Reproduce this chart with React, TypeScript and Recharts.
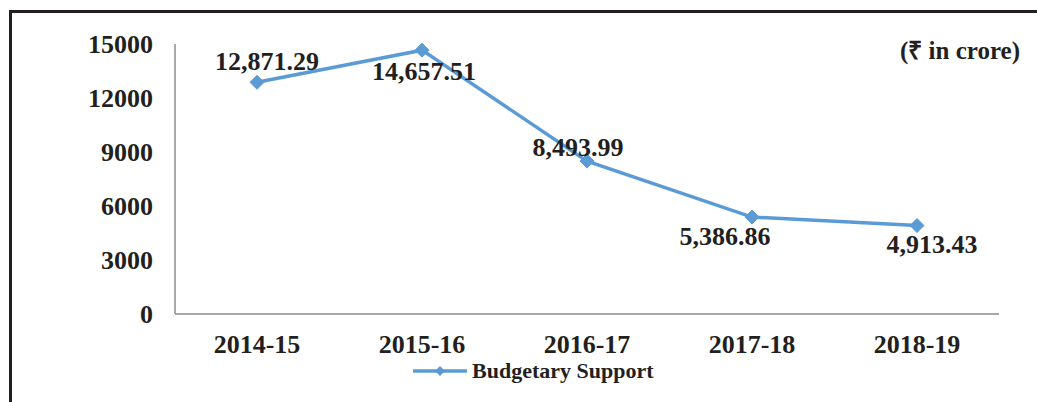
import { LineChart, Line, XAxis, YAxis, Legend, LabelList } from 'recharts';

const years = ['2014-15', '2015-16', '2016-17', '2017-18', '2018-19'];
const budgetarySupport = [12871.29, 14657.51, 8493.99, 5386.86, 4913.43];
const yTicks = [0, 3000, 6000, 9000, 12000, 15000];

const data = years.map((year, i) => ({ year, value: budgetarySupport[i] }));

// per-point label placement (relative to the marker)
const labelOffsets = [
  { dx: 10, dy: -21 },
  { dx: 2, dy: 21 },
  { dx: -9, dy: -14 },
  { dx: -27, dy: 19 },
  { dx: 15, dy: 18 },
];

const FONT = '"Liberation Serif", "Times New Roman", serif';
const BLUE = '#5B9BD5';
const INK = '#231f20';

const fmt = (v: number) =>
  v.toLocaleString('en-US', { minimumFractionDigits: 2, maximumFractionDigits: 2 });

const Diamond = (props: any) => {
  const { cx, cy, index } = props;
  if (cx == null || cy == null) return null;
  const r = 7;
  return (
    <path
      key={`d-${index}`}
      d={`M${cx},${cy - r}L${cx + r},${cy}L${cx},${cy + r}L${cx - r},${cy}Z`}
      fill={BLUE}
      stroke={BLUE}
    />
  );
};

const ValueLabel = (props: any) => {
  const { x, y, value, index } = props;
  const off = labelOffsets[index] || { dx: 0, dy: -20 };
  return (
    <text
      x={x + off.dx}
      y={y + off.dy + 9}
      textAnchor="middle"
      fontFamily={FONT}
      fontWeight="bold"
      fontSize={26}
      fill={INK}
    >
      {fmt(value)}
    </text>
  );
};

const LegendContent = () => (
  <svg width={270} height={24} style={{ overflow: 'visible' }}>
    <line x1={0} y1={11} x2={54} y2={11} stroke={BLUE} strokeWidth={3.5} />
    <path d="M27,6L32,11L27,16L22,11Z" fill={BLUE} />
    <text x={59} y={18} fontFamily={FONT} fontWeight="bold" fontSize={22} fill={INK}>
      Budgetary Support
    </text>
  </svg>
);

export default function App() {
  return (
    <div
      style={{
        position: 'absolute',
        left: 0,
        top: 0,
        width: 1037,
        height: 402,
        overflow: 'hidden',
        background: '#fff',
      }}
    >
      <div
        style={{
          position: 'absolute',
          left: 9,
          top: 10,
          width: 1200,
          height: 600,
          borderTop: `3px solid ${INK}`,
          borderLeft: `3px solid ${INK}`,
        }}
      />
      <div
        style={{
          position: 'absolute',
          right: 17,
          top: 32,
          fontFamily: FONT,
          fontWeight: 'bold',
          fontSize: 25,
          color: INK,
          whiteSpace: 'nowrap',
        }}
      >
        (₹ in crore)
      </div>
      <LineChart
        width={1037}
        height={402}
        data={data}
        margin={{ top: 44, right: 38, left: 0, bottom: 0 }}
        style={{ position: 'absolute', left: 0, top: 0 }}
      >
        <XAxis
          dataKey="year"
          padding={{ left: 82, right: 82 }}
          axisLine={{ stroke: '#8c8c8c', strokeWidth: 1.5 }}
          tickLine={false}
          tickSize={0}
          tickMargin={21}
          height={64}
          tick={{ fontFamily: FONT, fontWeight: 'bold', fontSize: 26, fill: INK }}
        />
        <YAxis
          width={175}
          domain={[0, 15000]}
          ticks={yTicks}
          interval={0}
          axisLine={{ stroke: '#8c8c8c', strokeWidth: 1.5 }}
          tickLine={false}
          tickSize={0}
          tickMargin={22}
          tick={{ fontFamily: FONT, fontWeight: 'bold', fontSize: 26, fill: INK }}
        />
        <Legend
          content={LegendContent}
          wrapperStyle={{ position: 'absolute', left: 413, top: 360, width: 270, height: 24 }}
        />
        <Line
          type="linear"
          dataKey="value"
          stroke={BLUE}
          strokeWidth={3.5}
          dot={Diamond}
          activeDot={false}
          isAnimationActive={false}
        >
          <LabelList dataKey="value" content={ValueLabel} />
        </Line>
      </LineChart>
    </div>
  );
}
